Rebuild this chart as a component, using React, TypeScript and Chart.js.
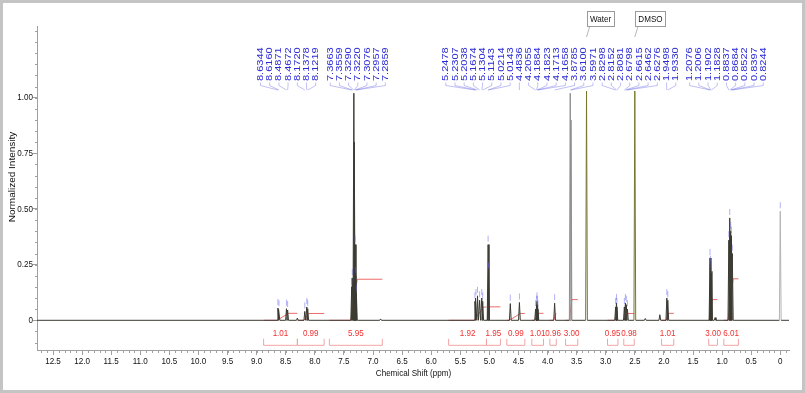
import { useEffect, useRef } from "react";
import { Chart, registerables } from "chart.js";

Chart.register(...registerables);

// ---------- data ----------
const xTickValues = [12.5, 12.0, 11.5, 11.0, 10.5, 10.0, 9.5, 9.0, 8.5, 8.0, 7.5, 7.0, 6.5, 6.0, 5.5, 5.0, 4.5, 4.0, 3.5, 3.0, 2.5, 2.0, 1.5, 1.0, 0.5, 0];
const yTickValues = [0, 0.25, 0.5, 0.75, 1.0];

const peakShifts = [
  8.6344, 8.616, 8.4871, 8.4672, 8.3, 8.172, 8.1378, 8.1219,
  7.3663, 7.3559, 7.329, 7.322, 7.3076, 7.2957, 7.2859, 6.87,
  5.2478, 5.2307, 5.2038, 5.1674, 5.1304, 5.1143, 5.0214, 5.0143,
  4.64, 4.4836, 4.2055, 4.1884, 4.1823, 4.1713, 4.1658, 3.8785,
  3.61, 3.5971, 3.33, 2.8298, 2.8152, 2.8081, 2.6798, 2.6615, 2.6462, 2.6276,
  2.5, 2.32, 2.07, 1.9498, 1.933, 1.2076, 1.2006, 1.1902, 1.1828, 1.12,
  0.8837, 0.8684, 0.8522, 0.8397, 0.8244, 0.0,
];
const peakHeights = [
  0.055, 0.05, 0.052, 0.046, 0.01, 0.04, 0.06, 0.052,
  0.15, 0.19, 1.02, 0.8, 0.34, 0.2, 0.12, 0.006,
  0.085, 0.1, 0.11, 0.09, 0.1, 0.085, 0.34, 0.22,
  0.075, 0.08, 0.05, 0.07, 0.085, 0.07, 0.05, 0.077,
  1.02, 0.9, 1.03, 0.06, 0.078, 0.06, 0.06, 0.078, 0.07, 0.05,
  1.03, 0.008, 0.025, 0.1, 0.09, 0.28, 0.25, 0.22, 0.2, 0.012,
  0.36, 0.46, 0.4, 0.38, 0.3, 0.49,
];

const labelGroup1 = ["8.6344", "8.6160", "8.4871", "8.4672", "8.1720", "8.1378", "8.1219"];
const labelGroup2 = ["7.3663", "7.3559", "7.3290", "7.3220", "7.3076", "7.2957", "7.2859"];
const labelGroup3 = [
  "5.2478", "5.2307", "5.2038", "5.1674", "5.1304", "5.1143", "5.0214", "5.0143", "4.4836",
  "4.2055", "4.1884", "4.1823", "4.1713", "4.1658", "3.8785", "3.6100", "3.5971",
  "2.8298", "2.8152", "2.8081", "2.6798", "2.6615", "2.6462", "2.6276", "1.9498", "1.9330",
];
const labelGroup4 = ["1.2076", "1.2006", "1.1902", "1.1828", "0.8837", "0.8684", "0.8522", "0.8397", "0.8244"];
const labelGroupAnchors = [8.46, 7.262, 3.773, 0.925];

const solventNames = ["Water", "DMSO"];
const solventShifts = [3.33, 2.5];

const integralStarts = [8.88, 8.3, 7.75, 5.7, 5.05, 4.7, 4.27, 3.96, 3.69, 2.97, 2.69, 2.04, 1.23, 0.97];
const integralEnds = [8.3, 7.84, 6.84, 5.05, 4.81, 4.39, 4.07, 3.85, 3.48, 2.79, 2.51, 1.83, 1.08, 0.72];
const integralValues = ["1.01", "0.99", "5.95", "1.92", "1.95", "0.99", "1.01", "0.96", "3.00", "0.95", "0.98", "1.01", "3.00", "6.01"];

// ---------- styling constants ----------
const X_MIN = -0.15;
const X_MAX = 12.775;
const Y_MIN = -0.1334;
const Y_MAX = 1.322;
const HALF_WIDTH = 0.015;
const INTEGRAL_SCALE = 0.031;
const MIN_SIGNIFICANT = 0.03;
const SX = 0.85;
const FONT = "Arial, 'Liberation Sans', sans-serif";

function buildSpectrum() {
  const idx = peakShifts.map((_, i) => i).sort((a, b) => peakShifts[b] - peakShifts[a]);
  const pts: { x: number; y: number }[] = [{ x: X_MAX, y: 0 }];
  idx.forEach((i) => {
    const p = peakShifts[i];
    pts.push({ x: p + HALF_WIDTH, y: 0 });
    pts.push({ x: p, y: peakHeights[i] });
    pts.push({ x: p - HALF_WIDTH, y: 0 });
  });
  pts.push({ x: X_MIN, y: 0 });
  return pts;
}

function buildIntegrals() {
  const pts: { x: number; y: number | null }[] = [];
  integralStarts.forEach((a, i) => {
    const b = integralEnds[i];
    const v = parseFloat(integralValues[i]) * INTEGRAL_SCALE;
    const inside = peakShifts.filter((p, k) => p <= a && p >= b && peakHeights[k] >= MIN_SIGNIFICANT);
    const hi = inside.length ? Math.max(...inside) + HALF_WIDTH : (a + b) / 2;
    const lo = inside.length ? Math.min(...inside) - HALF_WIDTH : (a + b) / 2;
    pts.push({ x: a, y: 0 }, { x: hi, y: 0 }, { x: lo, y: v }, { x: b, y: v }, { x: b, y: null });
  });
  return pts;
}

function hText(ctx: CanvasRenderingContext2D, text: string, x: number, y: number, size: number, color: string, align: CanvasTextAlign) {
  ctx.save();
  ctx.translate(x, y);
  ctx.scale(SX, 1);
  ctx.font = `${size}px ${FONT}`;
  ctx.fillStyle = color;
  ctx.textAlign = align;
  ctx.textBaseline = "middle";
  ctx.fillText(text, 0, 0);
  ctx.restore();
}

function vText(ctx: CanvasRenderingContext2D, text: string, x: number, y: number, size: number, color: string, align: CanvasTextAlign) {
  ctx.save();
  ctx.translate(x, y);
  ctx.scale(SX, 1);
  ctx.rotate(-Math.PI / 2);
  ctx.font = `${size}px ${FONT}`;
  ctx.fillStyle = color;
  ctx.textAlign = align;
  ctx.textBaseline = "middle";
  ctx.fillText(text, 0, 0);
  ctx.restore();
}

const decorPlugin = {
  id: "nmrDecor",
  beforeDraw(chart: any) {
    const { ctx, width, height } = chart;
    ctx.save();
    ctx.fillStyle = "#fff";
    ctx.fillRect(0, 0, width, height);
    ctx.restore();
  },
  afterDraw(chart: any) {
    const { ctx, chartArea, width, height } = chart;
    const xs = chart.scales.x;
    const ys = chart.scales.y;
    const zeroY = ys.getPixelForValue(0);

    // minor ticks
    ctx.save();
    ctx.strokeStyle = "#a0a0a0";
    ctx.lineWidth = 1;
    ctx.beginPath();
    for (let k = -1; k <= 127; k++) {
      const v = k / 10;
      const px = Math.round(xs.getPixelForValue(v)) + 0.5;
      ctx.moveTo(px, chartArea.bottom);
      ctx.lineTo(px, chartArea.bottom + 3);
    }
    for (let k = -2; k <= 26; k++) {
      const v = k / 20;
      const py = Math.round(ys.getPixelForValue(v)) + 0.5;
      ctx.moveTo(chartArea.left - 2, py);
      ctx.lineTo(chartArea.left, py);
    }
    ctx.stroke();
    ctx.restore();

    // tick labels from the scales
    xs.ticks.forEach((t: any) => {
      const px = xs.getPixelForValue(t.value);
      hText(ctx, t.value === 0 ? "0" : t.value.toFixed(1), px, 361, 9.5, "#111", "center");
    });
    ys.ticks.forEach((t: any) => {
      const py = ys.getPixelForValue(t.value);
      hText(ctx, t.value === 0 ? "0" : t.value.toFixed(2), chartArea.left - 4, py, 9.5, "#111", "right");
    });

    // axis titles
    hText(ctx, "Chemical Shift (ppm)", (chartArea.left + chartArea.right) / 2 + 0.5, 373, 9.5, "#111", "center");
    vText(ctx, "Normalized Intensity", 13, 177, 10, "#111", "center");

    // pick marks above multiplet peaks
    peakShifts.forEach((p, k) => {
      const h = peakHeights[k];
      if (h < MIN_SIGNIFICANT || h >= 0.5) return;
      const P = xs.getPixelForValue(p);
      const top = ys.getPixelForValue(h);
      ctx.save();
      ctx.strokeStyle = "rgba(100,100,235,0.5)";
      ctx.lineWidth = 1;
      ctx.beginPath();
      ctx.moveTo(P, top - 3);
      ctx.lineTo(P, top - 9);
      ctx.stroke();
      ctx.restore();
    });

    // peak labels and leaders
    const groups = [labelGroup1, labelGroup2, labelGroup3, labelGroup4];
    const spacing = 9.2;
    groups.forEach((g, gi) => {
      const A = xs.getPixelForValue(labelGroupAnchors[gi]);
      g.forEach((lab, i) => {
        const lx = A + (i - (g.length - 1) / 2) * spacing;
        const P = xs.getPixelForValue(parseFloat(lab));
        ctx.save();
        ctx.strokeStyle = "rgba(110,110,230,0.55)";
        ctx.lineWidth = 0.8;
        ctx.beginPath();
        ctx.moveTo(lx, 82.5);
        ctx.lineTo(lx, 85.5);
        ctx.lineTo(P, 90);
        ctx.stroke();
        ctx.restore();
        vText(ctx, lab, lx, 81, 11, "#2b2bd6", "left");
      });
    });

    // solvent boxes
    solventNames.forEach((name, i) => {
      const px = xs.getPixelForValue(solventShifts[i]);
      ctx.save();
      ctx.font = `9.5px ${FONT}`;
      const w = ctx.measureText(name).width * SX + 6;
      ctx.fillStyle = "#fff";
      ctx.fillRect(px, 11.5, w, 15);
      ctx.strokeStyle = "#9a9a9a";
      ctx.lineWidth = 1;
      ctx.strokeRect(Math.round(px) + 0.5, 11.5, Math.round(w), 15);
      ctx.beginPath();
      ctx.strokeStyle = "#b8b8b8";
      ctx.moveTo(px + 3, 27);
      ctx.lineTo(px, 37);
      ctx.stroke();
      ctx.restore();
      hText(ctx, name, px + w / 2 + 0.5, 19.5, 9.5, "#111", "center");
    });

    // integral brackets and values
    integralStarts.forEach((a, i) => {
      const x1 = xs.getPixelForValue(a);
      const x2 = xs.getPixelForValue(integralEnds[i]);
      ctx.save();
      ctx.strokeStyle = "#f2a4a4";
      ctx.lineWidth = 1;
      ctx.beginPath();
      ctx.moveTo(x1, zeroY + 18.5);
      ctx.lineTo(x1, zeroY + 25);
      ctx.lineTo(x2, zeroY + 25);
      ctx.lineTo(x2, zeroY + 18.5);
      ctx.stroke();
      ctx.restore();
      hText(ctx, integralValues[i], (x1 + x2) / 2, zeroY + 13, 9.5, "#f03030", "center");
    });

    // outer frame
    ctx.save();
    ctx.fillStyle = "#c4c4c4";
    ctx.fillRect(0, 0, width, 3);
    ctx.fillRect(0, 0, 3, height);
    ctx.fillRect(width - 3, 0, 3, height);
    ctx.fillRect(0, height - 3, width, 3);
    ctx.restore();
  },
};

export default function App() {
  const ref = useRef<HTMLCanvasElement | null>(null);

  useEffect(() => {
    if (!ref.current) return;
    const spectrum = buildSpectrum();
    const integrals = buildIntegrals();
    const colorFor = (x: number) => {
      if (Math.abs(x - 3.33) < 0.05 || Math.abs(x - 2.5) < 0.05) return "#77772f";
      if (Math.abs(x) < 0.05) return "#b4b4b4";
      if (Math.abs(x - 3.6) < 0.04) return "#8e8e8e";
      return "#3a3a32";
    };
    const chart = new Chart(ref.current, {
      type: "line",
      data: {
        datasets: [
          {
            data: spectrum as any,
            borderColor: "#3a3a32",
            borderWidth: 1,
            pointRadius: 0,
            borderJoinStyle: "round",
            segment: {
              borderColor: (c: any) => colorFor((c.p0.parsed.x + c.p1.parsed.x) / 2),
            },
          },
          {
            data: integrals as any,
            borderColor: "rgba(236,80,80,0.85)",
            borderWidth: 1,
            pointRadius: 0,
            spanGaps: false,
          },
        ],
      },
      options: {
        responsive: false,
        animation: false,
        devicePixelRatio: 1,
        layout: { padding: { top: 26, right: 16, left: 0, bottom: 0 } },
        plugins: { legend: { display: false }, tooltip: { enabled: false } },
        events: [],
        scales: {
          x: {
            type: "linear",
            reverse: true,
            min: X_MIN,
            max: X_MAX,
            afterBuildTicks: (s: any) => {
              s.ticks = xTickValues.map((v) => ({ value: v }));
            },
            afterFit: (s: any) => {
              s.height = 43;
            },
            ticks: { display: false },
            grid: { drawOnChartArea: false, drawTicks: true, tickLength: 5, color: "#a0a0a0" },
            border: { color: "#a0a0a0" },
          },
          y: {
            type: "linear",
            min: Y_MIN,
            max: Y_MAX,
            afterBuildTicks: (s: any) => {
              s.ticks = yTickValues.map((v) => ({ value: v }));
            },
            afterFit: (s: any) => {
              s.width = 37;
            },
            ticks: { display: false },
            grid: { drawOnChartArea: false, drawTicks: true, tickLength: 4, color: "#a0a0a0" },
            border: { color: "#a0a0a0" },
          },
        },
      },
      plugins: [decorPlugin],
    });
    return () => chart.destroy();
  }, []);

  return (
    <div style={{ position: "fixed", left: 0, top: 0, width: 805, height: 393, background: "#fff" }}>
      <canvas ref={ref} width={805} height={393} style={{ display: "block" }} />
    </div>
  );
}
